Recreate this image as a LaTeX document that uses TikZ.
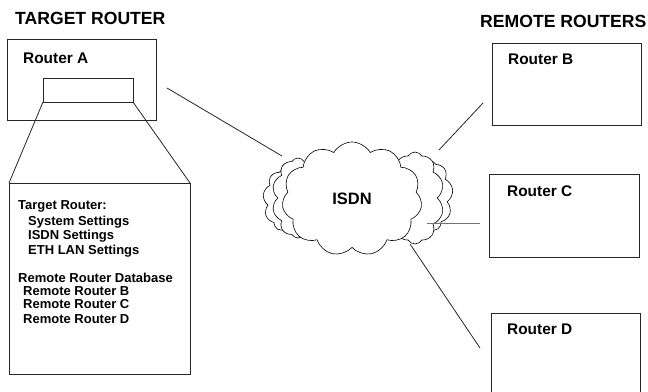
\documentclass[tikz,border=0pt]{standalone}
\usepackage{fontspec}
\setmainfont{Liberation Sans}
\usetikzlibrary{shapes.symbols}
\begin{document}
\begin{tikzpicture}[x=1pt,y=-1pt,
  title/.style={font=\fontsize{17.6}{17.6}\selectfont\bfseries, inner sep=0pt, anchor=base west},
  rlabel/.style={font=\fontsize{15.4}{15.4}\selectfont\bfseries, inner sep=0pt, anchor=base west},
  item/.style={font=\fontsize{13}{13}\selectfont\bfseries, inner sep=0pt, anchor=base west},
  box/.style={draw=black!85, line width=0.8pt, inner sep=0pt},
  conn/.style={draw=black!85, line width=0.8pt},
  puff/.style={cloud, cloud puffs=#1, cloud puff arc=120, aspect=1, draw=black, fill=white, line width=0.6pt, inner sep=0pt},
]
\useasboundingbox (0,0) rectangle (648,391);

% titles
\node[title] (t1) at (15,24) {TARGET ROUTER};
\node[title] (t2) at (480,27.5) {REMOTE ROUTERS};

% Router A
\draw[box] (7,39) rectangle (156,120);
\node[rlabel] (la) at (23,63) {Router A};
\draw[box] (43,78) rectangle (133,102);
\coordinate (zl) at (43,102);
\coordinate (zr) at (133,102);

% detail box
\draw[box] (9,183) rectangle (190,374);
\coordinate (bl) at (9,183);
\coordinate (br) at (190,183);
\draw[conn] (zl) -- (bl);
\draw[conn] (zr) -- (br);

\node[item] (i1) at (18,209.5) {Target Router:};
\node[item] (i2) at (28,225.5) {System Settings};
\node[item] (i3) at (28,239.5) {ISDN Settings};
\node[item] (i4) at (28,254.5) {ETH LAN Settings};
\node[item] (i5) at (18,282) {Remote Router Database};
\node[item] (i6) at (23,295.5) {Remote Router B};
\node[item] (i7) at (23,308.5) {Remote Router C};
\node[item] (i8) at (23,323) {Remote Router D};

% remote routers
\draw[box] (492,43) rectangle (641,125);
\node[rlabel] (lb) at (508,64) {Router B};
\draw[box] (489,174) rectangle (639,257);
\node[rlabel] (lc) at (507,196) {Router C};
\draw[box] (491,395) -- (491,313) -- (640,313) -- (640,395);
\node[rlabel] (ld) at (507,334) {Router D};

% cloud
\node[puff=9, minimum width=44, minimum height=62] (c1) at (285,200) {};
\node[puff=10, minimum width=52, minimum height=80] (c2) at (298,198) {};
\node[puff=9, minimum width=46, minimum height=70] (c3) at (430,196) {};
\node[puff=10, minimum width=58, minimum height=92] (c4) at (415,198) {};
\node[puff=11, minimum width=140, minimum height=114] (isdn) at (352,199) {};
\node[font=\fontsize{16.5}{16.5}\selectfont\bfseries, inner sep=0pt] (lisdn) at (352,199) {ISDN};

% connectors
\coordinate (a1) at (167,88);
\coordinate (a2) at (282,156);
\draw[conn] (a1) -- (a2);
\coordinate (b1) at (439,150);
\coordinate (b2) at (483,103);
\draw[conn] (b1) -- (b2);
\coordinate (cc1) at (427,223);
\coordinate (cc2) at (480,223);
\draw[draw=black!55, line width=0.9pt] (cc1) -- (cc2);
\coordinate (d1) at (410,244);
\coordinate (d2) at (480,348);
\draw[conn] (d1) -- (d2);
\end{tikzpicture}
\end{document}
